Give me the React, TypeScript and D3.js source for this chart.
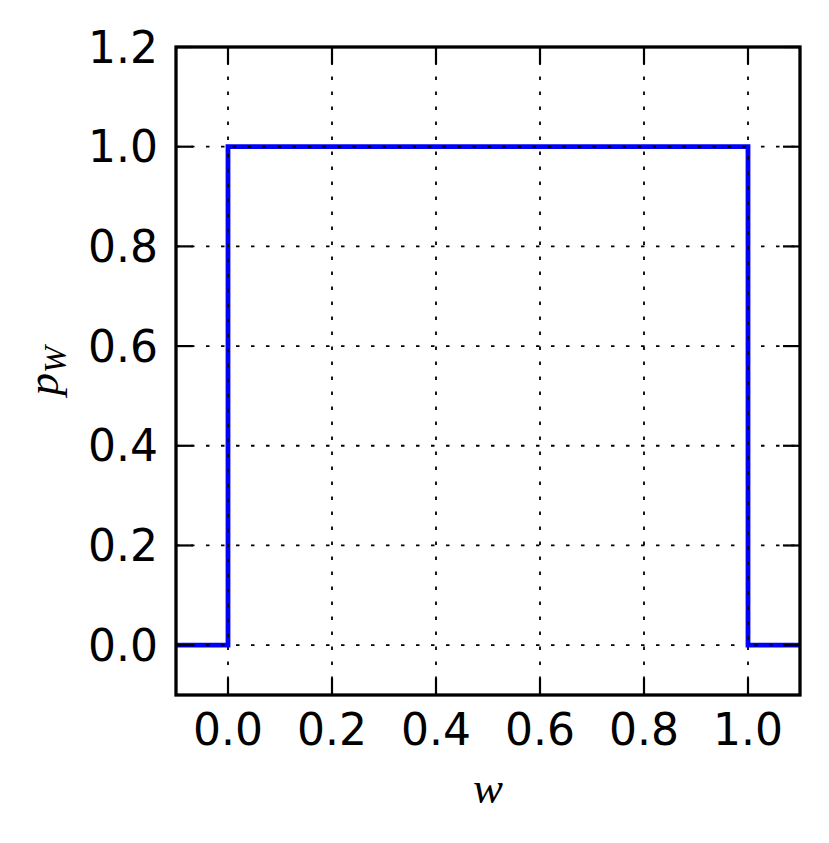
import React from "react";
import * as d3 from "d3";

const stepX = [-0.1, 0.0, 0.0, 1.0, 1.0, 1.1];
const stepY = [0.0, 0.0, 1.0, 1.0, 0.0, 0.0];
const xTicks = [0.0, 0.2, 0.4, 0.6, 0.8, 1.0];
const yTicks = [0.0, 0.2, 0.4, 0.6, 0.8, 1.0, 1.2];

const W = 829;
const H = 843;
const L = 176, R = 800, T = 47, B = 695;

export default function App() {
  const x = d3.scaleLinear().domain([-0.1, 1.1]).range([L, R]);
  const y = d3.scaleLinear().domain([-0.1, 1.2]).range([B, T]);
  const pts: [number, number][] = stepX.map((v, i) => [v, stepY[i]]);
  const line = d3.line<[number, number]>().x((d) => x(d[0])).y((d) => y(d[1]));
  const path = line(pts) || "";
  const font = "'DejaVu Sans', sans-serif";
  const tl = 17;
  return (
    <svg width={W} height={H} style={{ position: "absolute", left: 0, top: 0, background: "#fff" }}>
      <defs>
        <clipPath id="clip">
          <rect x={L} y={T} width={R - L} height={B - T} />
        </clipPath>
      </defs>
      <rect x={0} y={0} width={W} height={H} fill="#fff" />
      {/* grid */}
      <g stroke="#000" strokeWidth={1.8} strokeDasharray="3.5,11.5" fill="none">
        {xTicks.map((t) => (
          <line key={"gx" + t} x1={x(t)} x2={x(t)} y1={B} y2={T} />
        ))}
        {yTicks.map((t) => (
          <line key={"gy" + t} x1={L} x2={R} y1={y(t)} y2={y(t)} />
        ))}
      </g>
      <g clipPath="url(#clip)">
        <path d={path} fill="none" stroke="#0000ff" strokeWidth={4.8} />
        <path d={path} fill="none" stroke="#000" strokeWidth={2} strokeDasharray="3.5,11.5" />
      </g>
      {/* ticks */}
      <g stroke="#000" strokeWidth={2.2}>
        {xTicks.map((t) => (
          <g key={"tx" + t}>
            <line x1={x(t)} x2={x(t)} y1={B} y2={B - tl} />
            <line x1={x(t)} x2={x(t)} y1={T} y2={T + tl} />
          </g>
        ))}
        {yTicks.map((t) => (
          <g key={"ty" + t}>
            <line x1={L} x2={L + tl} y1={y(t)} y2={y(t)} />
            <line x1={R} x2={R - tl} y1={y(t)} y2={y(t)} />
          </g>
        ))}
      </g>
      <rect x={L} y={T} width={R - L} height={B - T} fill="none" stroke="#000" strokeWidth={3.3} />
      {/* tick labels */}
      <g fontFamily={font} fontSize={44} fill="#000">
        {xTicks.map((t) => (
          <text key={"lx" + t} x={x(t)} y={745} textAnchor="middle">
            {t.toFixed(1)}
          </text>
        ))}
        {yTicks.map((t) => (
          <text key={"ly" + t} x={158} y={y(t)} textAnchor="end" dominantBaseline="central">
            {t.toFixed(1)}
          </text>
        ))}
      </g>
      {/* axis labels */}
      <text x={(L + R) / 2} y={803} textAnchor="middle" fontFamily="'Liberation Serif', serif" fontStyle="italic" fontSize={45}>
        w
      </text>
      <text
        transform={`translate(58,${(T + B) / 2}) rotate(-90)`}
        textAnchor="middle"
        fontFamily="'Liberation Serif', serif"
        fontStyle="italic"
        fontSize={45}
      >
        p
        <tspan fontSize={32} dy={8}>W</tspan>
      </text>
    </svg>
  );
}
